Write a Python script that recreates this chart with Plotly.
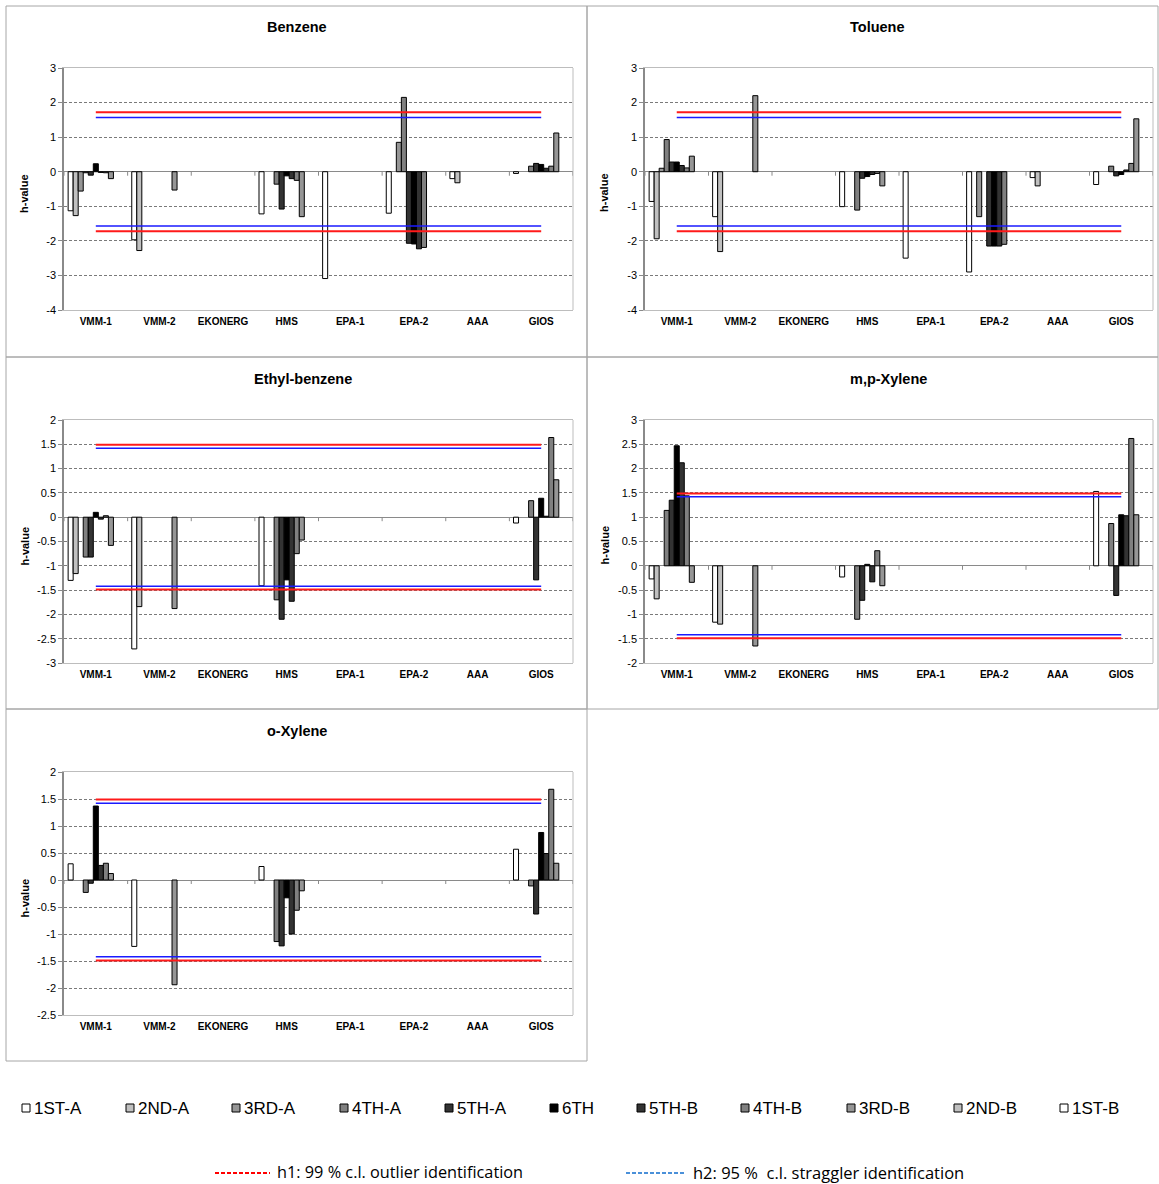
import numpy as np
import plotly.graph_objects as go

# ---------------------------------------------------------------- data
LABS = ["VMM-1", "VMM-2", "EKONERG", "HMS", "EPA-1", "EPA-2", "AAA", "GIOS"]
SERIES = ["1ST-A", "2ND-A", "3RD-A", "4TH-A", "5TH-A", "6TH",
          "5TH-B", "4TH-B", "3RD-B", "2ND-B", "1ST-B"]
SERIES_COLORS = ["#ffffff", "#c0c0c0", "#969696", "#808080", "#333333", "#000000",
                 "#333333", "#808080", "#969696", "#c0c0c0", "#ffffff"]

N = None
# Mandel's h per laboratory (rows, LABS order) and sample (columns, SERIES order)
BENZENE = [
    [-1.13, -1.27, -0.56, -0.03, -0.10, 0.23, -0.02, -0.03, -0.20, N, N],
    [-1.97, -2.28, N, N, N, N, N, N, -0.53, N, N],
    [N, N, N, N, N, N, N, N, N, N, N],
    [-1.22, N, N, -0.36, -1.08, -0.12, -0.20, -0.25, -1.30, N, N],
    [-3.09, N, N, N, N, N, N, N, N, N, N],
    [-1.20, N, 0.85, 2.15, -2.07, -2.09, -2.23, -2.19, N, N, N],
    [-0.20, -0.32, N, N, N, N, N, N, N, N, N],
    [-0.05, N, N, 0.16, 0.24, 0.21, 0.10, 0.16, 1.12, N, N],
]
TOLUENE = [
    [-0.86, -1.94, 0.10, 0.93, 0.28, 0.28, 0.18, 0.11, 0.45, N, N],
    [-1.30, -2.31, N, N, N, N, N, N, 2.20, N, N],
    [N, N, N, N, N, N, N, N, N, N, N],
    [-1.01, N, N, -1.11, -0.19, -0.14, -0.08, -0.05, -0.41, N, N],
    [-2.50, N, N, N, N, N, N, N, N, N, N],
    [-2.90, N, -1.30, N, -2.15, -2.15, -2.15, -2.10, N, N, N],
    [-0.17, -0.41, N, N, N, N, N, N, N, N, N],
    [-0.37, N, N, 0.16, -0.12, -0.08, 0.05, 0.24, 1.53, N, N],
]
ETHYLBENZENE = [
    [-1.30, -1.16, N, -0.82, -0.82, 0.10, -0.04, 0.03, -0.58, N, N],
    [-2.71, -1.84, N, N, N, N, N, N, -1.88, N, N],
    [N, N, N, N, N, N, N, N, N, N, N],
    [-1.41, N, N, -1.70, -2.10, -1.29, -1.73, -0.75, -0.47, N, N],
    [N, N, N, N, N, N, N, N, N, N, N],
    [N, N, N, N, N, N, N, N, N, N, N],
    [N, N, N, N, N, N, N, N, N, N, N],
    [-0.12, N, N, 0.34, -1.29, 0.39, 0.02, 1.64, 0.77, N, N],
]
MP_XYLENE = [
    [-0.27, -0.68, N, 1.14, 1.35, 2.47, 2.12, 1.44, -0.34, N, N],
    [-1.16, -1.20, N, N, N, N, N, N, -1.65, N, N],
    [N, N, N, N, N, N, N, N, N, N, N],
    [-0.23, N, N, -1.10, -0.71, 0.03, -0.33, 0.31, -0.41, N, N],
    [N, N, N, N, N, N, N, N, N, N, N],
    [N, N, N, N, N, N, N, N, N, N, N],
    [N, N, N, N, N, N, N, N, N, N, N],
    [1.53, N, N, 0.87, -0.61, 1.05, 1.03, 2.62, 1.05, N, N],
]
O_XYLENE = [
    [0.30, N, N, -0.23, -0.06, 1.37, 0.27, 0.31, 0.12, N, N],
    [-1.23, N, N, N, N, N, N, N, -1.94, N, N],
    [N, N, N, N, N, N, N, N, N, N, N],
    [0.25, N, N, -1.14, -1.22, -0.33, -1.00, -0.56, -0.20, N, N],
    [N, N, N, N, N, N, N, N, N, N, N],
    [N, N, N, N, N, N, N, N, N, N, N],
    [N, N, N, N, N, N, N, N, N, N, N],
    [0.57, N, N, -0.11, -0.63, 0.88, 0.49, 1.68, 0.31, N, N],
]

COMPOUNDS = ["Benzene", "Toluene", "Ethyl-benzene", "m,p-Xylene", "o-Xylene"]
COMPOUND_DATA = [BENZENE, TOLUENE, ETHYLBENZENE, MP_XYLENE, O_XYLENE]
H1 = [1.72, 1.72, 1.49, 1.49, 1.49]   # 99 % critical value (outliers)
H2 = [1.57, 1.57, 1.42, 1.42, 1.42]   # 95 % critical value (stragglers)
Y_RANGES = [(-4, 3), (-4, 3), (-3, 2), (-2, 3), (-2.5, 2)]
Y_STEPS = [1, 1, 0.5, 0.5, 0.5]

H1_LABEL = "h1: 99 % c.l. outlier identification"
H2_LABEL = "h2: 95 %\u00a0 c.l. straggler identification"

# ---------------------------------------------------------------- layout geometry (px)
W, H = 1159, 1184
PLOT_BOXES = [(64, 573, 68, 310), (645, 1153, 68, 310), (64, 573, 420, 663),
              (645, 1153, 420, 663), (64, 573, 772, 1015)]
PANEL_BOXES = [(6, 587, 6, 357), (587, 1158, 6, 357), (6, 587, 357, 709),
               (587, 1158, 357, 709), (6, 587, 709, 1061)]
TITLE_POS = [(297, 27), (877, 27), (303, 379), (888, 379), (297, 731)]
YTITLE_X = [24, 604, 24, 604, 24]
LEGEND_X = [22, 126, 232, 340, 445, 550, 637, 741, 847, 954, 1060]
LEGEND_Y = 1108
FONT = "Liberation Sans"


def px(x):
    return x / W


def py(y):
    return 1 - y / H


fig = go.Figure()
layout = dict(
    width=W, height=H, autosize=False,
    margin=dict(l=0, r=0, t=0, b=0, pad=0, autoexpand=False),
    paper_bgcolor="white", plot_bgcolor="white",
    barmode="group", bargap=0.13, bargroupgap=0,
    showlegend=False,
    font=dict(family=FONT, color="black"),
)
shapes = []
annotations = []

for k, (name, data) in enumerate(zip(COMPOUNDS, COMPOUND_DATA)):
    sfx = "" if k == 0 else str(k + 1)
    xr, yr = "x" + sfx, "y" + sfx
    x0, x1, y0, y1 = PLOT_BOXES[k]
    lo, hi = Y_RANGES[k]
    ticks = np.round(np.arange(lo, hi + Y_STEPS[k] / 2, Y_STEPS[k]), 2)

    for j, s in enumerate(SERIES):
        fig.add_trace(go.Bar(
            x=LABS, y=[row[j] for row in data], name=s,
            marker=dict(color=SERIES_COLORS[j], line=dict(color="#000000", width=1)),
            xaxis=xr, yaxis=yr, showlegend=False,
        ))
    for level, color, width in [(H1[k], "#ff1a1a", 2), (-H1[k], "#ff1a1a", 2),
                                (H2[k], "#1a1aff", 1.6), (-H2[k], "#1a1aff", 1.6)]:
        fig.add_trace(go.Scatter(
            x=LABS, y=[level] * len(LABS), mode="lines",
            line=dict(color=color, width=width),
            xaxis=xr, yaxis=yr, showlegend=False, hoverinfo="skip",
        ))

    layout["xaxis" + sfx] = dict(
        domain=[px(x0), px(x1)], anchor=yr, type="category", automargin=False,
        categoryorder="array", categoryarray=LABS, range=[-0.5, len(LABS) - 0.5],
        showgrid=False, zeroline=False, ticks="",
        showline=True, mirror=True, linecolor="#bdbdbd", linewidth=1,
        tickfont=dict(family=FONT, size=10, weight="bold", color="black"),
        ticklabelstandoff=2,
    )
    layout["yaxis" + sfx] = dict(
        domain=[py(y1), py(y0)], anchor=xr, range=[lo, hi], automargin=False,
        tickvals=list(ticks), ticktext=[f"{v:g}" for v in ticks],
        showgrid=True, gridcolor="#7a7a7a", gridwidth=1, griddash="3px,2px",
        zeroline=True, zerolinecolor="#8a8a8a", zerolinewidth=1,
        showline=True, linecolor="#8a8a8a", linewidth=1.5,
        ticks="outside", ticklen=4, tickcolor="#8a8a8a",
        tickfont=dict(family=FONT, size=11, color="black"),
    )

    # right edge of plot area
    shapes.append(dict(type="line", xref="paper", yref="paper",
                       x0=px(x1), x1=px(x1), y0=py(y1), y1=py(y0),
                       line=dict(color="#bdbdbd", width=1), layer="above"))
    # category tick marks on the zero line
    for b in range(len(LABS) + 1):
        shapes.append(dict(type="line", xref=xr, yref=yr, ysizemode="pixel", yanchor=0,
                           x0=b - 0.5, x1=b - 0.5, y0=0, y1=-4,
                           line=dict(color="#8a8a8a", width=1)))
    # panel border
    a0, a1, b0, b1 = PANEL_BOXES[k]
    shapes.append(dict(type="rect", xref="paper", yref="paper",
                       x0=px(a0), x1=px(a1), y0=py(b1), y1=py(b0),
                       line=dict(color="#a6a6a6", width=1), fillcolor="rgba(0,0,0,0)"))
    # titles
    tx, ty = TITLE_POS[k]
    annotations.append(dict(text=name, xref="paper", yref="paper", x=px(tx), y=py(ty),
                            xanchor="center", yanchor="middle", showarrow=False,
                            font=dict(family=FONT, size=14.5, weight="bold", color="black")))
    annotations.append(dict(text="h-value", xref="paper", yref="paper",
                            x=px(YTITLE_X[k]), y=py((y0 + y1) / 2 + 4), textangle=-90,
                            xanchor="center", yanchor="middle", showarrow=False,
                            font=dict(family=FONT, size=11, weight="bold", color="black")))

# series key
for j, s in enumerate(SERIES):
    lx = LEGEND_X[j]
    shapes.append(dict(type="rect", xref="paper", yref="paper",
                       x0=px(lx), x1=px(lx + 8), y0=py(LEGEND_Y + 4), y1=py(LEGEND_Y - 4),
                       fillcolor=SERIES_COLORS[j], line=dict(color="#000000", width=1)))
    annotations.append(dict(text=s, xref="paper", yref="paper", x=px(lx + 10), y=py(LEGEND_Y),
                            xanchor="left", yanchor="middle", showarrow=False,
                            font=dict(family=FONT, size=17, color="black")))

# critical-value key
for (lx0, lx1, color, label, fs) in [(215, 270, "#ff0000", H1_LABEL, 16.3),
                                     (626, 686, "#4a90d9", H2_LABEL, 16.5)]:
    shapes.append(dict(type="line", xref="paper", yref="paper",
                       x0=px(lx0), x1=px(lx1), y0=py(1173), y1=py(1173),
                       line=dict(color=color, width=2, dash="4px,2px")))
    annotations.append(dict(text=label, xref="paper", yref="paper", x=px(lx1 + 5), y=py(1172),
                            xanchor="left", yanchor="middle", showarrow=False,
                            font=dict(family="Open Sans", size=fs, color="black")))

layout["shapes"] = shapes
layout["annotations"] = annotations
fig.update_layout(**layout)
fig.write_html("out.html")
